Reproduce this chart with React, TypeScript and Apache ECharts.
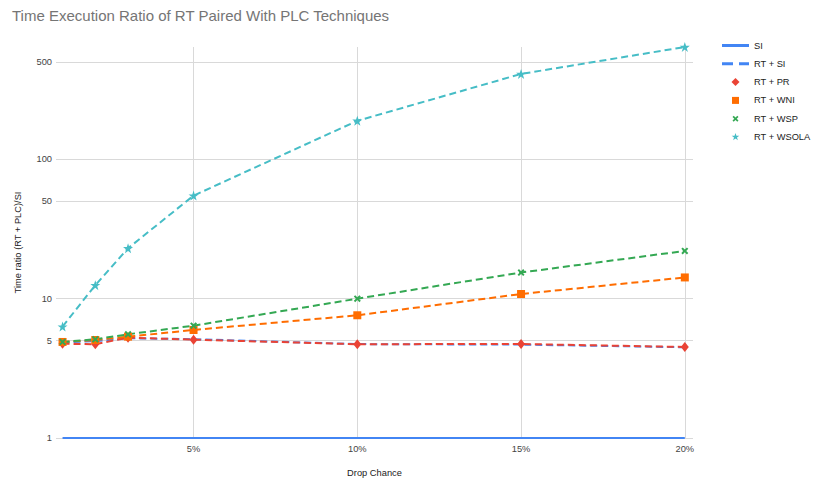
import React, { useEffect, useRef } from "react";
import * as echarts from "echarts";

const dropChance = [1, 2, 3, 5, 10, 15, 20];
const si = [1, 1, 1, 1, 1, 1, 1];
const rtSi = [4.85, 4.95, 5.2, 5.12, 4.72, 4.68, 4.48];
const rtPr = [4.75, 4.71, 5.25, 5.08, 4.71, 4.73, 4.5];
const rtWni = [4.89, 5.05, 5.34, 5.96, 7.6, 10.8, 14.2];
const rtWsp = [4.89, 5.11, 5.55, 6.4, 10.0, 15.4, 22.0];
const rtWsola = [6.3, 12.5, 23.0, 54.9, 189, 410, 640];

const xTicks = [5, 10, 15, 20];
const yTicks = [1, 5, 10, 50, 100, 500];

// unit-square shapes (0..10)
const X_PTS = [[0, 2], [2, 0], [5, 3], [8, 0], [10, 2], [7, 5], [10, 8], [8, 10], [5, 7], [2, 10], [0, 8], [3, 5]];
const STAR_PTS = [[5, 0], [6.18, 3.45], [9.76, 3.45], [6.86, 5.59], [7.94, 9.05], [5, 6.9], [2.06, 9.05], [3.14, 5.59], [0.24, 3.45], [3.82, 3.45]];
const DIAMOND_PTS = [[5, 0], [10, 5], [5, 10], [0, 5]];
const SQUARE_PTS = [[0, 0], [10, 0], [10, 10], [0, 10]];

const poly = (pts: number[][], ox = 0, oy = 0, s = 1) =>
  "M" + pts.map((p) => (ox + p[0] * s).toFixed(2) + "," + (oy + p[1] * s).toFixed(2)).join(" L") + " Z";

const symbolPath = (pts: number[][]) => "path://" + poly(pts);
// legend icons drawn in a 27x8 box (bounds fixed with move-to points)
const BOX = "M0,0 M27,8 ";
const legendIcon = (pts: number[][], size: number) =>
  "path://" + BOX + poly(pts, 13.5 - size / 2, 4 - size / 2, size / 10);

export default function App() {
  const ref = useRef<HTMLDivElement>(null);
  useEffect(() => {
    if (!ref.current) return;
    const chart = echarts.init(ref.current, undefined, { renderer: "svg" });
    const font = "Arial, 'Liberation Sans', sans-serif";
    const small = 9.3;
    const dashed = (color: string) => ({ color, width: 2, type: [7, 4] as any });
    chart.setOption({
      animation: false,
      backgroundColor: "#ffffff",
      textStyle: { fontFamily: font },
      title: {
        text: "Time Execution Ratio of RT Paired With PLC Techniques",
        left: 7,
        top: 3,
        textStyle: { fontFamily: font, fontSize: 15, fontWeight: "normal", color: "#757575" },
      },
      legend: {
        orient: "vertical",
        left: 717,
        top: 36,
        itemWidth: 27,
        itemHeight: 8,
        itemGap: 9.3,
        textStyle: { fontFamily: font, fontSize: small, color: "#222222" },
        data: [
          { name: "SI", icon: "path://" + BOX + "M0,2.5 L27,2.5 L27,5.5 L0,5.5 Z" },
          { name: "RT + SI", icon: "path://" + BOX + "M0,2.5 L11,2.5 L11,5.5 L0,5.5 Z M17,2.5 L27,2.5 L27,5.5 L17,5.5 Z" },
          { name: "RT + PR", icon: legendIcon(DIAMOND_PTS, 8) },
          { name: "RT + WNI", icon: legendIcon(SQUARE_PTS, 7) },
          { name: "RT + WSP", icon: legendIcon(X_PTS, 6) },
          { name: "RT + WSOLA", icon: legendIcon(STAR_PTS, 8) },
        ],
      },
      grid: { left: 56, right: 122, top: 47, bottom: 42, outerBoundsMode: "none", containLabel: false },
      xAxis: {
        type: "value",
        min: 0.8,
        max: 20.25,
        name: "Drop Chance",
        nameLocation: "middle",
        nameGap: 30,
        nameTextStyle: { fontFamily: font, fontSize: small, color: "#222222" },
        axisLine: { show: false },
        axisTick: { show: false, customValues: xTicks },
        axisLabel: {
          customValues: xTicks,
          formatter: (v: number) => v + "%",
          fontFamily: font,
          fontSize: small,
          color: "#444444",
          margin: 6,
        },
        splitLine: { show: true, lineStyle: { color: "#d9d9d9", width: 1 } },
      },
      yAxis: {
        type: "log",
        logBase: 10,
        min: 1,
        max: (v: any) => v.max,
        name: "Time ratio (RT + PLC)/SI",
        nameLocation: "middle",
        nameGap: 34,
        nameTextStyle: { fontFamily: font, fontSize: small, color: "#222222" },
        axisLine: { show: false },
        axisTick: { show: false, customValues: yTicks },
        axisLabel: {
          customValues: yTicks,
          fontFamily: font,
          fontSize: small,
          color: "#444444",
          margin: 4,
        },
        splitLine: { show: true, lineStyle: { color: "#d9d9d9", width: 1 } },
      },
      series: [
        {
          name: "SI",
          type: "line",
          data: dropChance.map((x, i) => [x, si[i]]),
          symbol: "none",
          color: "#4285F4",
          lineStyle: { color: "#4285F4", width: 2 },
        },
        {
          name: "RT + SI",
          type: "line",
          data: dropChance.map((x, i) => [x, rtSi[i]]),
          symbol: "none",
          color: "#4285F4",
          lineStyle: dashed("#4285F4"),
        },
        {
          name: "RT + PR",
          type: "line",
          data: dropChance.map((x, i) => [x, rtPr[i]]),
          symbol: symbolPath(DIAMOND_PTS),
          symbolSize: [8, 10],
          color: "#EA4335",
          lineStyle: dashed("#EA4335"),
        },
        {
          name: "RT + WNI",
          type: "line",
          data: dropChance.map((x, i) => [x, rtWni[i]]),
          symbol: "rect",
          symbolSize: 8,
          color: "#FF6D01",
          lineStyle: dashed("#FF6D01"),
        },
        {
          name: "RT + WSP",
          type: "line",
          data: dropChance.map((x, i) => [x, rtWsp[i]]),
          symbol: symbolPath(X_PTS),
          symbolSize: 7,
          color: "#34A853",
          lineStyle: dashed("#34A853"),
        },
        {
          name: "RT + WSOLA",
          type: "line",
          data: dropChance.map((x, i) => [x, rtWsola[i]]),
          symbol: symbolPath(STAR_PTS),
          symbolSize: 10,
          color: "#46BDC6",
          lineStyle: dashed("#46BDC6"),
        },
      ],
    });
    return () => chart.dispose();
  }, []);
  return <div ref={ref} style={{ width: 815, height: 480, position: "absolute", left: 0, top: 0 }} />;
}
